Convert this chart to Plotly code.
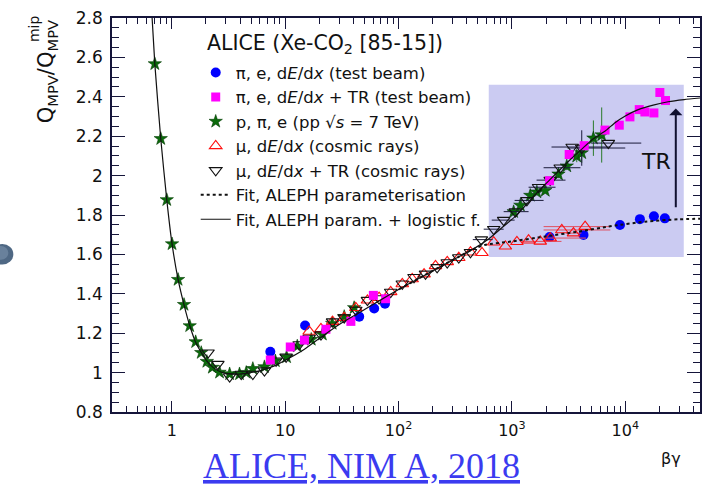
import numpy as np
import plotly.graph_objects as go

# ---- measured points: Q_MPV / Q_MPV(mip) versus beta*gamma ----
# pi, e test beam, dE/dx only
beam_dedx_bg = [7.4, 15.0, 45, 61, 76, 2150, 4280, 8980, 13460, 17880, 22330]
beam_dedx_q = [1.106, 1.239, 1.284, 1.325, 1.350, 1.688, 1.699, 1.749, 1.779, 1.794, 1.783]

# pi, e test beam, dE/dx + TR
beam_tr_bg = [7.4, 11.1, 14.8, 22.9, 38, 60, 77, 2150, 3200, 4340, 6630, 8850,
              10990, 13280, 14890, 17880, 20180, 22630]
beam_tr_q = [1.064, 1.130, 1.165, 1.220, 1.260, 1.392, 1.375, 1.974, 2.107, 2.152,
             2.231, 2.256, 2.298, 2.335, 2.323, 2.318, 2.422, 2.381]

# p, pi, e from pp collisions at 7 TeV
pp_bg = [0.709, 0.80, 0.904, 1.006, 1.137, 1.283, 1.44, 1.625, 1.82, 2.04, 2.28, 2.64,
         3.24, 3.96, 4.54, 5.19, 6.57, 8.2, 10.3, 12.8, 17.0, 21.3, 26.0, 33.2, 40.6,
         1036, 1187, 1452, 1660, 1968, 2576, 3048, 3733, 4130, 5232, 6194]
pp_q = [2.567, 2.187, 1.877, 1.653, 1.472, 1.345, 1.237, 1.156, 1.101, 1.056, 1.026,
        1.001, 0.993, 0.993, 1.000, 1.020, 1.029, 1.059, 1.079, 1.134, 1.168, 1.194,
        1.249, 1.284, 1.329,
        1.816, 1.849, 1.899, 1.916, 1.924, 2.007, 2.048, 2.098, 2.115, 2.190, 2.206]
pp_qerr = [0] * 25 + [0.01, 0.01, 0.01, 0.015, 0.015, 0.02, 0.02, 0.03, 0.05, 0.09, 0.14]

# cosmic muons, dE/dx only
cosmic_bg = [16.3, 20.7, 26.2, 33.2, 42.0, 53.2, 67.4, 85.3, 108, 132, 168, 212, 269,
             340, 431, 545, 691, 876, 1107, 1403, 1778, 2178, 2755, 3492, 4425]
cosmic_q = [1.209, 1.222, 1.259, 1.279, 1.329, 1.367, 1.380, 1.410, 1.450, 1.475,
            1.500, 1.542, 1.562, 1.583, 1.611, 1.608, 1.662, 1.641, 1.664, 1.672,
            1.666, 1.683, 1.724, 1.708, 1.741]
# horizontal bar ends of the last five cosmic points
cosmic_bar_lo = [1219, 1900, 1903, 3000, 1903]
cosmic_bar_hi = [2737, 4500, 7382, 4100, 7300]

# cosmic muons, dE/dx + TR
cosmic_tr_bg = [2.09, 2.55, 3.24, 4.10, 5.19, 6.57, 8.32, 10.2, 13.3, 16.3, 20.7, 26.2,
                33.2, 42.0, 53.2, 67.4, 85.3, 108, 137, 173, 219, 269, 340, 431,
                538, 691, 846, 1072, 1355, 1718, 2178, 2667, 3400, 4130, 7090]
cosmic_tr_q = [1.101, 1.043, 0.980, 0.993, 0.993, 1.010, 1.060, 1.080, 1.143, 1.176,
               1.193, 1.259, 1.279, 1.318, 1.368, 1.376, 1.409, 1.451, 1.484, 1.501,
               1.534, 1.559, 1.584, 1.611,
               1.675, 1.728, 1.774, 1.817, 1.874, 1.941, 1.977, 2.040, 2.145, 2.140, 2.165]
# horizontal bar ends of the last eleven TR cosmic points
cosmic_tr_bar_lo = [452, 564, 664, 846, 1057, 1403, 1651, 1903, 2235, 3091, 5000]
cosmic_tr_bar_hi = [677, 846, 1057, 1403, 1903, 2425, 2970, 4020, 7382, 10000, 13830]
cosmic_tr_qerr = [0] * 33 + [0.09, 0]

# ---- fit curves ----
fit_tr_bg = [0.671, 0.709, 0.80, 0.904, 1.006, 1.137, 1.283, 1.44, 1.625, 1.835, 2.07,
             2.34, 2.75, 3.37, 4.38, 5.94, 8.04, 10.9, 14.8, 20.1, 30.0, 45.0, 67.4, 101,
             151, 226, 340, 459, 623, 846, 1090, 1358, 1718, 2187, 2680, 3280, 4085,
             5232, 6650, 8170, 10000, 13010, 17630, 23900, 33000, 45600]
fit_tr_q = [2.80, 2.567, 2.187, 1.877, 1.653, 1.473, 1.344, 1.239, 1.154, 1.099, 1.054,
            1.024, 1.002, 0.992, 0.995, 1.009, 1.034, 1.074, 1.119, 1.174, 1.244, 1.304,
            1.364, 1.423, 1.478, 1.533, 1.588, 1.628, 1.678, 1.743, 1.797, 1.857, 1.922,
            1.982, 2.032, 2.082, 2.132, 2.187, 2.226, 2.270, 2.303, 2.335, 2.358, 2.375,
            2.386, 2.394]
fit_bg = [101, 151, 226, 340, 459, 585, 1000, 1968, 3862, 7580, 14900, 29250, 45600]
fit_q = [1.423, 1.478, 1.533, 1.588, 1.628, 1.649, 1.666, 1.691, 1.716, 1.744, 1.766,
         1.778, 1.781]

# ---- axis ticks ----
x_ticks = [1, 10, 100, 1000, 10000]
x_tick_labels = ["1", "10", "10<sup>2</sup>", "10<sup>3</sup>", "10<sup>4</sup>"]

# TR region box and arrow
tr_box_bg = [625, 32800]
tr_box_q = [1.587, 2.461]
tr_arrow_bg = 27900
tr_arrow_q = [1.832, 2.340]

FONT = "DejaVu Sans"
AX = "#15153a"


def bars(x, lo, hi, start):
    """Asymmetric error arrays, zero for the points before `start`."""
    minus = [0.0] * len(x)
    plus = [0.0] * len(x)
    for k, (a, b) in enumerate(zip(lo, hi)):
        i = start + k
        minus[i] = x[i] - a
        plus[i] = b - x[i]
    return plus, minus


fig = go.Figure()

# lavender band marking the TR regime
fig.add_shape(type="rect", xref="x", yref="y", x0=tr_box_bg[0], x1=tr_box_bg[1],
              y0=tr_box_q[0], y1=tr_box_q[1], fillcolor="#cbcbf2",
              line=dict(width=0), layer="below")

c_plus, c_minus = bars(cosmic_bg, cosmic_bar_lo, cosmic_bar_hi, len(cosmic_bg) - 5)
t_plus, t_minus = bars(cosmic_tr_bg, cosmic_tr_bar_lo, cosmic_tr_bar_hi,
                       len(cosmic_tr_bg) - 11)

fig.add_trace(go.Scatter(
    x=pp_bg, y=pp_q, mode="markers", name="p, π, e (pp √<i>s</i> = 7 TeV)",
    legendrank=3,
    marker=dict(symbol="star", size=10, color="#0b6b0b",
                line=dict(color="#033d03", width=0.6)),
    error_y=dict(type="data", array=pp_qerr, color="#2a7a2a", thickness=1, width=0)))

fig.add_trace(go.Scatter(
    x=beam_dedx_bg, y=beam_dedx_q, mode="markers", name="π, e, d<i>E</i>/d<i>x</i> (test beam)",
    legendrank=1, marker=dict(symbol="circle", size=10, color="#0000ff")))

fig.add_trace(go.Scatter(
    x=cosmic_bg, y=cosmic_q, mode="markers", name="μ, d<i>E</i>/d<i>x</i> (cosmic rays)",
    legendrank=4,
    marker=dict(symbol="triangle-up-open", size=11, color="#ff1010",
                line=dict(width=1.1)),
    error_x=dict(type="data", symmetric=False, array=c_plus, arrayminus=c_minus,
                 color="#e05060", thickness=1, width=0)))

fig.add_trace(go.Scatter(
    x=cosmic_tr_bg, y=cosmic_tr_q, mode="markers",
    name="μ, d<i>E</i>/d<i>x</i> + TR (cosmic rays)", legendrank=5,
    marker=dict(symbol="triangle-down-open", size=11, color="#111111",
                line=dict(width=1.1)),
    error_x=dict(type="data", symmetric=False, array=t_plus, arrayminus=t_minus,
                 color="#1a1a3a", thickness=1, width=0),
    error_y=dict(type="data", array=cosmic_tr_qerr, color="#1a1a3a", thickness=1, width=0)))

fig.add_trace(go.Scatter(
    x=beam_tr_bg, y=beam_tr_q, mode="markers",
    name="π, e, d<i>E</i>/d<i>x</i> + TR (test beam)", legendrank=2,
    marker=dict(symbol="square", size=9, color="#ff00ff")))

fig.add_trace(go.Scatter(
    x=fit_bg, y=fit_q, mode="lines", name="Fit, ALEPH parameterisation", legendrank=6,
    line=dict(color="#111111", width=2, dash="3px,3px", shape="spline", smoothing=0.6)))

fig.add_trace(go.Scatter(
    x=fit_tr_bg, y=fit_tr_q, mode="lines", name="Fit, ALEPH param. + logistic f.",
    legendrank=7,
    line=dict(color="#111111", width=1.2, shape="spline", smoothing=0.6)))

# TR arrow and label
fig.add_annotation(x=np.log10(tr_arrow_bg), y=tr_arrow_q[1], ax=np.log10(tr_arrow_bg),
                   ay=tr_arrow_q[0], xref="x", yref="y", axref="x", ayref="y", text="",
                   showarrow=True, arrowhead=1, arrowsize=1.1, arrowwidth=2,
                   arrowcolor="#101030")
fig.add_annotation(x=np.log10(18740), y=2.073, xref="x", yref="y", text="TR",
                   xanchor="center", yanchor="middle",
                   showarrow=False, font=dict(family=FONT, size=22, color="#111111"))


def px_x(p):
    return (p - 112) / 590.0


def px_y(p):
    return (412 - p) / 401.0


def label(text, x, y, size, family=FONT, color="#111111", angle=0, xanchor="center"):
    fig.add_annotation(x=px_x(x), y=px_y(y), xref="paper", yref="paper",
                       xanchor=xanchor, yanchor="middle", textangle=angle,
                       showarrow=False, text=text,
                       font=dict(family=family, size=size, color=color))


# header of the legend
label("ALICE (Xe-CO<sub>2</sub> [85-15])", 205, 37, 20.5, xanchor="left")

# y-axis title (stacked sub/superscript done with two labels)
label("Q<sub>MPV</sub>/Q<sub>MPV</sub>", 47, 66, 21, angle=-90)
label("mip", 34, 22, 14, angle=-90)

# x-axis title
label("βγ", 673, 459, 16)

# reference link
label("<u>ALICE, NIM A, 2018</u>", 362, 467, 36, family="Liberation Serif",
      color="#3b3bf0")

# bullet sphere on the left edge
fig.add_shape(type="circle", xref="paper", yref="paper", x0=px_x(-9), x1=px_x(13),
              y0=px_y(262), y1=px_y(241), fillcolor="#4f6884", line=dict(width=0))
fig.add_shape(type="circle", xref="paper", yref="paper", x0=px_x(-7), x1=px_x(8),
              y0=px_y(257), y1=px_y(243), fillcolor="#7c92ab", opacity=0.6,
              line=dict(width=0))

fig.update_xaxes(
    type="log", range=[-0.527, 4.659], tickmode="array", tickvals=x_ticks,
    ticktext=x_tick_labels, ticks="inside", ticklen=11, tickwidth=1, tickcolor=AX,
    showline=True, linecolor=AX, linewidth=1.5, mirror="ticks", showgrid=False,
    zeroline=False, tickfont=dict(family=FONT, size=16, color="#111111"),
    ticklabelstandoff=3,
    minor=dict(ticks="inside", ticklen=6, tickwidth=1, tickcolor=AX, dtick="D1",
               showgrid=False))
fig.update_yaxes(
    range=[0.8, 2.8], tick0=0.8, dtick=0.2, ticks="inside", ticklen=13, tickwidth=1,
    tickcolor=AX, showline=True, linecolor=AX, linewidth=1.5, mirror="ticks",
    showgrid=False, zeroline=False,
    tickfont=dict(family=FONT, size=17, color="#111111"), ticklabelstandoff=4,
    minor=dict(ticks="inside", ticklen=7, tickwidth=1, tickcolor=AX, dtick=0.05,
               showgrid=False))

fig.update_layout(
    width=710, height=485, margin=dict(l=112, r=8, t=11, b=73),
    paper_bgcolor="white", plot_bgcolor="white",
    font=dict(family=FONT, color="#111111"),
    legend=dict(x=px_x(196), y=px_y(49), xanchor="left", yanchor="top",
                bgcolor="rgba(0,0,0,0)", font=dict(family=FONT, size=16.5),
                tracegroupgap=0, itemwidth=30),
    showlegend=True)

fig.write_html("out.html")
